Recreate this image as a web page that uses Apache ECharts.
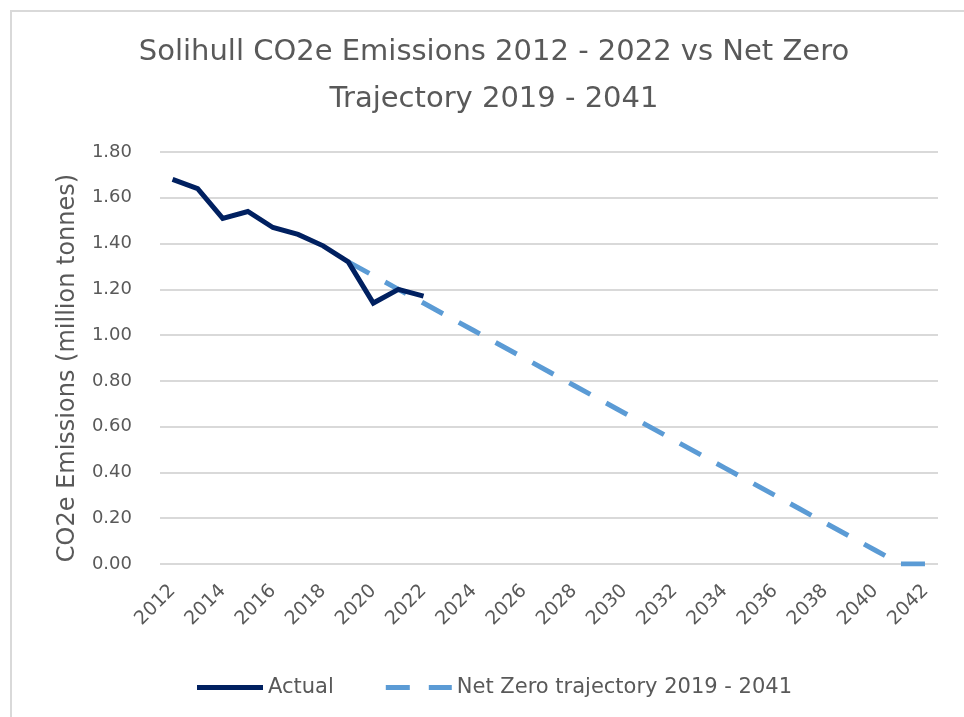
<!DOCTYPE html>
<html>
<head>
<meta charset="utf-8">
<script src="https://cdn.jsdelivr.net/npm/echarts@6/dist/echarts.min.js"></script>
<style>
  html, body { margin: 0; padding: 0; background: #fff; }
  #main { width: 964px; height: 717px; }
</style>
</head>
<body>
<div id="main"></div>
<script>
// years on the category axis
var years = ['2012', '2013', '2014', '2015', '2016', '2017', '2018', '2019', '2020', '2021',
  '2022', '2023', '2024', '2025', '2026', '2027', '2028', '2029', '2030', '2031',
  '2032', '2033', '2034', '2035', '2036', '2037', '2038', '2039', '2040', '2041', '2042'];

// actual emissions 2012 - 2022 (million tonnes)
var actual = [1.68, 1.64, 1.51, 1.54, 1.47, 1.44, 1.39, 1.32, 1.14, 1.20, 1.17];

// net zero trajectory, starts at 2019
var netZero = [1.32, 1.26, 1.20, 1.14, 1.08, 1.02, 0.96, 0.90, 0.84, 0.78, 0.72, 0.66,
  0.60, 0.54, 0.48, 0.42, 0.36, 0.30, 0.24, 0.18, 0.12, 0.06, 0.00, 0.00];
var netZeroStart = 7; // index of 2019

var grey = '#595959';
var font = 'DejaVu Sans';

var actualData = years.map(function (y, i) { return i < actual.length ? actual[i] : null; });
var netZeroData = years.map(function (y, i) {
  var k = i - netZeroStart;
  return (k >= 0 && k < netZero.length) ? netZero[k] : null;
});

var chart = echarts.init(document.getElementById('main'));
var option = {
  backgroundColor: '#fff',
  textStyle: { fontFamily: font, color: grey },
  graphic: [{
    type: 'rect',
    shape: { x: 11, y: 11, width: 1000, height: 800 },
    style: { fill: 'none', stroke: '#d9d9d9', lineWidth: 2 },
    silent: true
  }],
  title: {
    text: 'Solihull CO2e Emissions 2012 - 2022 vs Net Zero\nTrajectory 2019 - 2041',
    left: 489,
    textAlign: 'center',
    top: 24,
    textStyle: { fontFamily: font, fontSize: 29, fontWeight: 'normal', color: grey, lineHeight: 47 }
  },
  grid: { left: 160, right: 26, top: 152, bottom: 153 },
  legend: {
    left: 192,
    top: 672,
    itemWidth: 66,
    itemHeight: 5,
    itemGap: 52,
    textStyle: { fontFamily: font, fontSize: 21, color: grey },
    data: [
      { name: 'Actual', icon: 'rect' },
      { name: 'Net Zero trajectory 2019 - 2041', icon: 'path://M0,0H24V5H0Z M43,0H66V5H43Z' }
    ]
  },
  xAxis: {
    type: 'category',
    data: years,
    boundaryGap: true,
    axisLine: { show: false },
    axisTick: { show: false },
    axisLabel: {
      interval: 1,
      rotate: 45,
      fontFamily: font,
      fontSize: 19,
      color: grey,
      margin: 24
    }
  },
  yAxis: {
    type: 'value',
    min: 0,
    max: 1.8,
    interval: 0.2,
    name: 'CO2e Emissions (million tonnes)',
    nameLocation: 'middle',
    nameGap: 80,
    nameTextStyle: { fontFamily: font, fontSize: 24, color: grey, padding: [0, 20, 0, 0] },
    axisLabel: {
      formatter: function (v) { return v.toFixed(2); },
      fontFamily: font,
      fontSize: 18,
      color: grey,
      margin: 28
    },
    splitLine: { lineStyle: { color: '#d9d9d9', width: 2 } }
  },
  series: [
    {
      name: 'Net Zero trajectory 2019 - 2041',
      type: 'line',
      data: netZeroData,
      symbol: 'none',
      z: 2,
      lineStyle: { color: '#5b9bd5', width: 5, type: [24, 18], cap: 'butt' },
      itemStyle: { color: '#5b9bd5' }
    },
    {
      name: 'Actual',
      type: 'line',
      data: actualData,
      symbol: 'none',
      z: 3,
      lineStyle: { color: '#002060', width: 5, join: 'miter' },
      itemStyle: { color: '#002060' }
    }
  ]
};
chart.setOption(option);
</script>
</body>
</html>
